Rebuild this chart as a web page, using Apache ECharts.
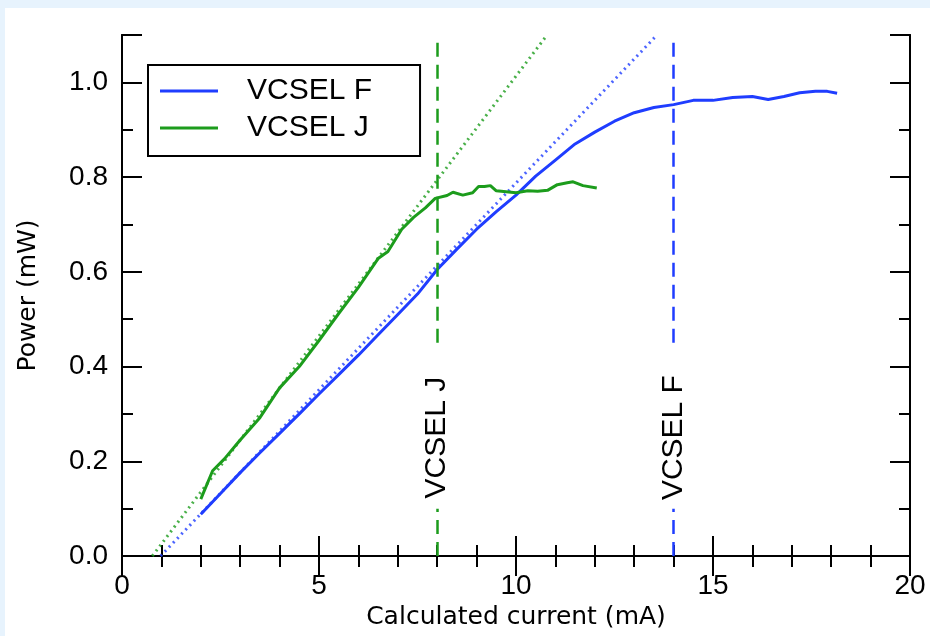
<!DOCTYPE html>
<html>
<head>
<meta charset="utf-8">
<script src="https://cdn.jsdelivr.net/npm/echarts@6/dist/echarts.min.js"></script>
<style>
html, body { margin: 0; padding: 0; }
#chart { width: 930px; height: 636px; }
</style>
</head>
<body>
<div id="chart"></div>
<script>
// measured curves (current in mA, power in mW)
var vcselF_x = [2.0, 2.5, 3.0, 3.5, 4.0, 4.5, 5.0, 5.5, 6.0, 6.5, 7.0, 7.5, 8.0, 8.5, 9.0, 9.5, 10.0, 10.5, 11.0, 11.5, 12.0, 12.5, 13.0, 13.5, 14.0, 14.5, 15.0, 15.5, 16.0, 16.4, 16.8, 17.2, 17.6, 17.9, 18.15];
var vcselF_y = [0.088, 0.132, 0.176, 0.218, 0.259, 0.300, 0.342, 0.383, 0.424, 0.467, 0.510, 0.553, 0.605, 0.648, 0.690, 0.727, 0.762, 0.802, 0.836, 0.870, 0.895, 0.918, 0.936, 0.947, 0.953, 0.962, 0.962, 0.968, 0.970, 0.964, 0.970, 0.978, 0.981, 0.981, 0.977];

var vcselJ_x = [2.0, 2.3, 2.6, 3.0, 3.5, 4.0, 4.5, 5.0, 5.5, 6.0, 6.5, 6.75, 7.1, 7.4, 7.7, 7.95, 8.25, 8.4, 8.65, 8.9, 9.05, 9.2, 9.35, 9.5, 9.75, 10.0, 10.3, 10.55, 10.8, 11.05, 11.3, 11.45, 11.7, 12.05];
var vcselJ_y = [0.120, 0.180, 0.205, 0.245, 0.292, 0.355, 0.400, 0.455, 0.512, 0.567, 0.628, 0.643, 0.690, 0.715, 0.735, 0.755, 0.761, 0.768, 0.762, 0.767, 0.780, 0.780, 0.782, 0.771, 0.769, 0.767, 0.771, 0.770, 0.772, 0.784, 0.788, 0.790, 0.782, 0.777];

// linear fits (dotted), end points
var fitF_x = [0.98, 13.58];
var fitF_y = [0.0, 1.1];
var fitJ_x = [0.77, 10.79];
var fitJ_y = [0.0, 1.1];

// rollover markers (vertical dashed lines)
var markerF = 14;
var markerJ = 8;
var markerLabelY = 0.25;
var dashLower = [0, 0.1];
var dashUpper = [0.45, 1.1];

var BLUE = '#1f3dff';
var GREEN = '#1c9c1c';

function pairs(xs, ys) {
    return xs.map(function (x, i) { return [x, ys[i]]; });
}

function dashedMarker(x, color) {
    return {
        silent: true,
        symbol: ['none', 'none'],
        label: {show: false},
        lineStyle: {color: color, width: 2.5, type: [14, 8]},
        data: [
            [{coord: [x, dashLower[0]]}, {coord: [x, dashLower[1]]}],
            [{coord: [x, dashUpper[0]]}, {coord: [x, dashUpper[1]]}]
        ]
    };
}

function textMarker(x, text) {
    return {
        silent: true,
        symbol: 'circle',
        symbolSize: 0,
        label: {
            show: true,
            position: 'inside',
            rotate: 90,
            formatter: text,
            color: '#000',
            fontSize: 30,
            fontFamily: 'Liberation Sans'
        },
        data: [{coord: [x, markerLabelY]}]
    };
}

var myChart = echarts.init(document.getElementById('chart'));

var tickFont = {color: '#000', fontSize: 28, fontFamily: 'Liberation Sans'};
var nameFont = {color: '#000', fontSize: 25, fontFamily: 'DejaVu Sans'};

var yBase = {
    type: 'value', min: 0, max: 1.1,
    splitLine: {show: false},
    axisLine: {show: true, lineStyle: {color: '#000', width: 2}}
};

var option = {
    backgroundColor: '#e7f3fd',
    animation: false,
    graphic: [{
        type: 'rect', z: -10,
        shape: {x: 5, y: 8, width: 925, height: 628},
        style: {fill: '#fff'}
    }],
    grid: {left: 122, right: 20, top: 35, bottom: 80, show: false},
    legend: {
        data: ['VCSEL F', 'VCSEL J'],
        orient: 'vertical',
        left: 148, top: 65,
        icon: 'rect',
        itemWidth: 58, itemHeight: 3,
        itemGap: 7,
        padding: [11, 48, 13, 12],
        borderColor: '#000', borderWidth: 2,
        backgroundColor: '#fff',
        selectedMode: false,
        textStyle: {color: '#000', fontSize: 30, lineHeight: 30, fontFamily: 'Liberation Sans', padding: [0, 0, 0, 24]}
    },
    xAxis: [{
        type: 'value', min: 0, max: 20, interval: 5,
        name: 'Calculated current (mA)', nameLocation: 'middle', nameGap: 47,
        nameTextStyle: nameFont,
        splitLine: {show: false},
        axisLine: {show: true, lineStyle: {color: '#000', width: 2}},
        axisTick: {show: true, inside: true, length: 20, lineStyle: {color: '#000', width: 2}},
        minorTick: {show: true, splitNumber: 5, length: 11, lineStyle: {color: '#000', width: 2}},
        axisLabel: Object.assign({margin: 16}, tickFont)
    }, {
        type: 'value', min: 0, max: 20, interval: 5, position: 'top',
        splitLine: {show: false},
        axisLine: {show: true, lineStyle: {color: '#000', width: 2}},
        axisTick: {show: true, inside: true, length: 20, lineStyle: {color: '#000', width: 2}},
        minorTick: {show: true, splitNumber: 5, length: 11, lineStyle: {color: '#000', width: 2}},
        axisLabel: {show: false}
    }],
    yAxis: [
        Object.assign({}, yBase, {
            interval: 0.1, position: 'left',
            name: 'Power (mW)', nameLocation: 'middle', nameGap: 81,
            nameTextStyle: nameFont,
            axisTick: {show: true, inside: true, length: 11, lineStyle: {color: '#000', width: 2}},
            axisLabel: Object.assign({
                margin: 14,
                formatter: function (v) {
                    var k = Math.round(v * 10);
                    return (k % 2 === 0 && k <= 10) ? v.toFixed(1) : '';
                }
            }, tickFont)
        }),
        Object.assign({}, yBase, {
            interval: 0.2, position: 'left',
            axisTick: {show: true, inside: true, length: 20, lineStyle: {color: '#000', width: 2}},
            axisLabel: {show: false}
        }),
        Object.assign({}, yBase, {
            interval: 0.1, position: 'right',
            axisTick: {show: true, inside: true, length: 11, lineStyle: {color: '#000', width: 2}},
            axisLabel: {show: false}
        }),
        Object.assign({}, yBase, {
            interval: 0.2, position: 'right',
            axisTick: {show: true, inside: true, length: 20, lineStyle: {color: '#000', width: 2}},
            axisLabel: {show: false}
        })
    ],
    series: [
        {
            name: 'fit F', type: 'line', showSymbol: false, silent: true,
            data: pairs(fitF_x, fitF_y),
            lineStyle: {color: BLUE, width: 3, type: [2, 4], opacity: 0.8},
            itemStyle: {color: BLUE}
        },
        {
            name: 'fit J', type: 'line', showSymbol: false, silent: true,
            data: pairs(fitJ_x, fitJ_y),
            lineStyle: {color: GREEN, width: 3, type: [2, 4], opacity: 0.8},
            itemStyle: {color: GREEN}
        },
        {
            name: 'VCSEL F', type: 'line', showSymbol: false, symbol: 'none',
            data: pairs(vcselF_x, vcselF_y),
            lineStyle: {color: BLUE, width: 3},
            itemStyle: {color: BLUE},
            markLine: dashedMarker(markerF, BLUE),
            markPoint: textMarker(markerF, 'VCSEL F'),
            z: 3
        },
        {
            name: 'VCSEL J', type: 'line', showSymbol: false, symbol: 'none',
            data: pairs(vcselJ_x, vcselJ_y),
            lineStyle: {color: GREEN, width: 3},
            itemStyle: {color: GREEN},
            markLine: dashedMarker(markerJ, GREEN),
            markPoint: textMarker(markerJ, 'VCSEL J'),
            z: 3
        }
    ]
};

myChart.setOption(option);
</script>
</body>
</html>
